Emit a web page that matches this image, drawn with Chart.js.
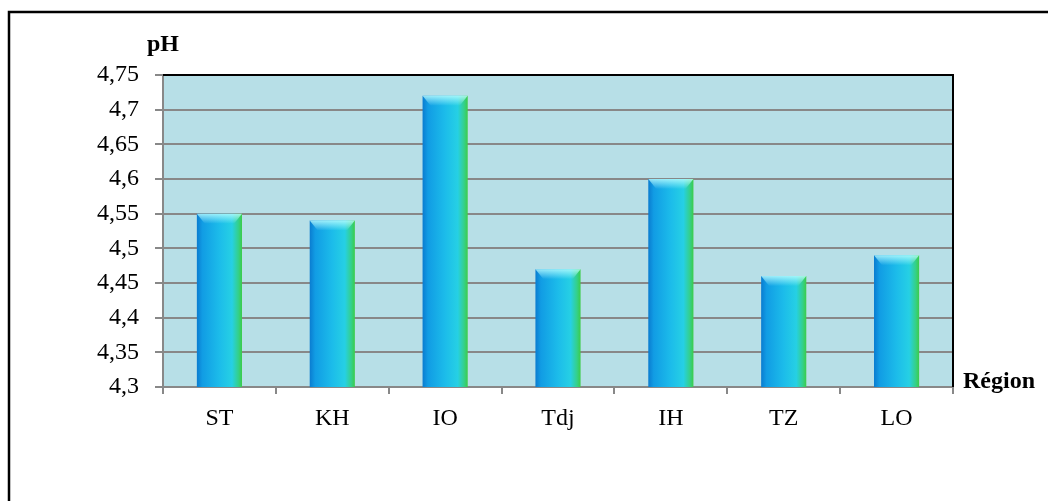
<!DOCTYPE html>
<html>
<head>
<meta charset="utf-8">
<script src="https://cdn.jsdelivr.net/npm/chart.js@4/dist/chart.umd.min.js"></script>
<style>
  body { margin: 0; background: #fff; }
  #wrap { position: relative; width: 1048px; height: 501px; }
</style>
</head>
<body>
<div id="wrap"><canvas id="chart" width="1048" height="501"></canvas></div>
<script>
const regions = ["ST", "KH", "IO", "Tdj", "IH", "TZ", "LO"];
const phValues = [4.55, 4.54, 4.72, 4.47, 4.60, 4.46, 4.49];
const yTickLabels = ["4,3", "4,35", "4,4", "4,45", "4,5", "4,55", "4,6", "4,65", "4,7", "4,75"];

const serif = "'Liberation Serif', 'Times New Roman', serif";
const barPct = 0.4;

// horizontal blue -> cyan -> green shading across each bar
function barGradient(ctx) {
    const chart = ctx.chart;
    const xs = chart.scales.x;
    if (!xs || !chart.chartArea) return "#18b0e6";
    const cx = xs.getPixelForValue(ctx.dataIndex);
    const w = (xs.width / regions.length) * barPct;
    const g = chart.ctx.createLinearGradient(cx - w / 2, 0, cx + w / 2, 0);
    g.addColorStop(0, "#0a7cd0");
    g.addColorStop(0.12, "#119ce4");
    g.addColorStop(0.5, "#1cbcea");
    g.addColorStop(0.78, "#26d0e4");
    g.addColorStop(0.92, "#34d08a");
    g.addColorStop(1, "#3ccc48");
    return g;
}

const chartDecor = {
    id: "chartDecor",
    beforeDraw(chart) {
        const { ctx, chartArea: a } = chart;
        ctx.save();
        ctx.fillStyle = "#b7dfe7";
        ctx.fillRect(a.left, a.top, a.right - a.left, a.bottom - a.top);
        // outer frame (top and left edges)
        ctx.strokeStyle = "#000";
        ctx.lineWidth = 2.5;
        ctx.beginPath();
        ctx.moveTo(9, 501);
        ctx.lineTo(9, 12);
        ctx.lineTo(1048, 12);
        ctx.stroke();
        ctx.restore();
    },
    afterDatasetsDraw(chart) {
        const { ctx } = chart;
        const meta = chart.getDatasetMeta(0);
        ctx.save();
        meta.data.forEach((bar) => {
            const left = bar.x - bar.width / 2;
            // darker base
            const gb = ctx.createLinearGradient(0, bar.base - 45, 0, bar.base);
            gb.addColorStop(0, "rgba(0,60,170,0)");
            gb.addColorStop(1, "rgba(0,60,170,0.4)");
            ctx.fillStyle = gb;
            ctx.fillRect(left, Math.max(bar.y, bar.base - 45), bar.width, Math.min(45, bar.base - bar.y));
            // light bevel on top
            const gt = ctx.createLinearGradient(0, bar.y, 0, bar.y + 10);
            gt.addColorStop(0, "rgba(190,255,255,0.8)");
            gt.addColorStop(1, "rgba(190,255,255,0)");
            ctx.fillStyle = gt;
            ctx.beginPath();
            ctx.moveTo(left, bar.y);
            ctx.lineTo(left + bar.width, bar.y);
            ctx.lineTo(left + bar.width - 8, bar.y + 10);
            ctx.lineTo(left + 8, bar.y + 10);
            ctx.closePath();
            ctx.fill();
        });
        ctx.restore();
    },
    afterDraw(chart) {
        const { ctx, chartArea: a } = chart;
        ctx.save();
        // black top and right edges of the plot
        ctx.strokeStyle = "#000";
        ctx.lineWidth = 2;
        ctx.beginPath();
        ctx.moveTo(a.left, a.top);
        ctx.lineTo(a.right, a.top);
        ctx.lineTo(a.right, a.bottom);
        ctx.stroke();
        // axis names
        ctx.fillStyle = "#000";
        ctx.font = "bold 24px " + serif;
        ctx.textBaseline = "middle";
        ctx.textAlign = "center";
        ctx.fillText("pH", a.left, 45);
        ctx.textAlign = "left";
        ctx.fillText("Région", a.right + 10, a.bottom - 5);
        ctx.restore();
    }
};

new Chart(document.getElementById("chart"), {
    type: "bar",
    data: {
        labels: regions,
        datasets: [{
            data: phValues,
            backgroundColor: barGradient,
            borderWidth: 0,
            barPercentage: barPct,
            categoryPercentage: 1.0
        }]
    },
    options: {
        responsive: false,
        animation: false,
        layout: { padding: { top: 75, right: 95, left: 0, bottom: 0 } },
        plugins: { legend: { display: false }, tooltip: { enabled: false } },
        scales: {
            x: {
                grid: { offset: true, drawOnChartArea: false, drawTicks: true, tickLength: 7, color: "#888", lineWidth: 2 },
                border: { color: "#888", width: 2 },
                ticks: { color: "#000", font: { family: serif, size: 24 }, padding: 10 },
                afterFit(scale) { scale.height = 114; }
            },
            y: {
                min: 4.3,
                max: 4.75,
                grid: { color: "#888", lineWidth: 2, tickLength: 8 },
                border: { color: "#888", width: 2 },
                ticks: {
                    stepSize: 0.05,
                    color: "#000",
                    font: { family: serif, size: 24 },
                    padding: 16,
                    callback: (v, i) => yTickLabels[i]
                },
                afterFit(scale) { scale.width = 163; }
            }
        }
    },
    plugins: [chartDecor]
});
</script>
</body>
</html>
